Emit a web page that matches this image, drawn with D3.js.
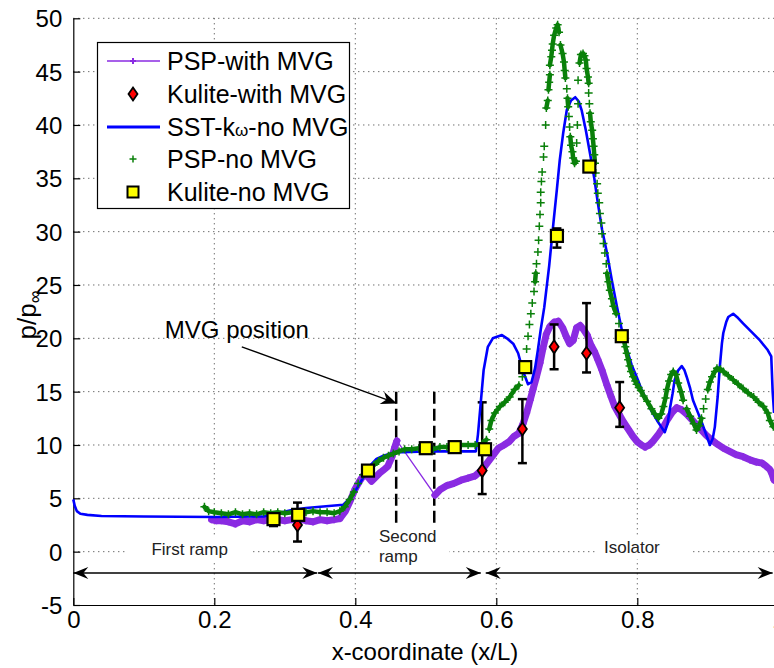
<!DOCTYPE html>
<html><head><meta charset="utf-8">
<script src="https://cdn.jsdelivr.net/npm/d3@7"></script>
<style>body{margin:0;background:#fff;overflow:hidden} text{font-family:"Liberation Sans",Arial,Helvetica,sans-serif}</style>
</head><body><svg id="c" width="774" height="668"></svg>
<script>
// ---------------- data ----------------
const xTicks = [0, 0.2, 0.4, 0.6, 0.8, 1];
const xTickLabels = ["0", "0.2", "0.4", "0.6", "0.8", "1"];
const yTicks = [-5, 0, 5, 10, 15, 20, 25, 30, 35, 40, 45, 50];
const yTickLabels = ["-5", "0", "5", "10", "15", "20", "25", "30", "35", "40", "45", "50"];
const seriesNames = ["PSP-with MVG", "Kulite-with MVG", "SST-kω-no MVG", "PSP-no MVG", "Kulite-no MVG"];

const pspWithMVG = [
 [0.196,3.0],[0.203,2.9],[0.21,2.9],[0.22,2.8],[0.23,2.6],[0.24,2.9],[0.25,2.8],[0.26,3.0],[0.27,2.9],
 [0.28,3.0],[0.29,3.0],[0.30,2.9],[0.31,3.0],[0.32,3.1],[0.33,2.9],[0.34,2.8],[0.35,3.0],[0.36,2.9],
 [0.37,3.0],[0.378,3.1],[0.386,3.8],[0.393,4.8],[0.40,5.9],[0.406,6.6],[0.412,7.2],[0.418,7.0],
 [0.423,6.6],[0.429,7.0],[0.435,7.4],[0.441,7.7],[0.446,8.0],[0.452,8.9],[0.456,9.8],[0.459,10.4],
 [0.513,5.3],[0.52,5.8],[0.53,6.2],[0.54,6.4],[0.55,6.7],[0.56,6.9],[0.57,7.1],[0.58,7.7],[0.588,8.4],
 [0.595,9.0],[0.603,9.7],[0.611,10.0],[0.618,10.3],[0.625,10.8],[0.632,11.1],[0.638,12.0],[0.643,13.0],
 [0.648,14.2],[0.652,15.2],[0.657,16.4],[0.662,17.7],[0.666,19.0],[0.671,20.4],[0.676,21.1],[0.682,21.5],
 [0.688,21.6],[0.694,21.0],[0.699,20.2],[0.704,19.5],[0.709,19.8],[0.714,21.0],[0.719,21.2],[0.724,20.8],
 [0.729,20.3],[0.734,19.4],[0.739,18.8],[0.744,18.0],[0.75,17.0],[0.757,15.6],[0.763,14.5],[0.768,13.6],
 [0.774,12.9],[0.780,12.2],[0.787,11.5],[0.794,10.8],[0.80,10.3],[0.806,10.0],[0.811,9.8],[0.817,10.0],
 [0.823,10.4],[0.83,11.0],[0.837,11.7],[0.843,12.4],[0.85,13.1],[0.856,13.5],[0.863,13.3],[0.870,12.9],
 [0.877,12.4],[0.884,11.9],[0.891,11.4],[0.898,10.9],[0.905,10.5],[0.913,10.1],[0.922,9.7],[0.931,9.4],
 [0.94,9.1],[0.95,8.9],[0.96,8.6],[0.969,8.4],[0.977,8.3],[0.983,8.0],[0.988,7.7],[0.991,7.3],[0.994,6.7]
];

// [x, y, lower, upper]
const kuliteWithMVG = [
 [0.318,2.5,0.95,4.6],[0.580,7.6,5.4,14.0],[0.637,11.5,8.3,14.3],
 [0.682,19.2,17.1,21.3],[0.728,18.6,16.8,23.3],[0.775,13.5,11.7,15.9]
];

const sstNoMVG = [
 [0,4.9],[0.002,4.3],[0.005,3.8],[0.01,3.55],[0.02,3.45],[0.04,3.35],[0.1,3.3],[0.2,3.25],[0.27,3.3],
 [0.31,3.9],[0.33,4.1],[0.383,4.4],[0.392,5.0],[0.40,5.7],[0.41,6.8],[0.42,8.0],[0.43,8.7],[0.44,9.0],
 [0.455,9.3],[0.5,9.4],[0.55,9.4],[0.571,9.4],[0.574,11.0],[0.578,14.0],[0.582,17.0],[0.588,19.2],
 [0.595,20.0],[0.603,20.2],[0.608,20.3],[0.615,20.0],[0.624,19.5],[0.631,18.6],[0.638,16.9],[0.645,15.7],
 [0.65,15.9],[0.655,17.2],[0.659,18.9],[0.663,20.8],[0.668,22.9],[0.675,26.8],[0.681,30.8],[0.686,34.0],
 [0.690,36.7],[0.695,39.3],[0.700,41.4],[0.706,42.3],[0.712,42.6],[0.717,42.2],[0.721,41.4],[0.727,39.5],
 [0.733,37.3],[0.739,35.0],[0.744,32.7],[0.750,30.2],[0.757,28.0],[0.764,25.4],[0.771,23.0],[0.778,20.8],
 [0.785,19.0],[0.792,17.5],[0.799,16.4],[0.806,15.2],[0.813,14.2],[0.820,13.2],[0.828,12.3],[0.834,11.7],
 [0.839,11.2],[0.843,12.0],[0.846,13.3],[0.850,14.8],[0.853,16.1],[0.858,17.0],[0.863,17.4],[0.867,17.0],
 [0.870,16.4],[0.875,15.3],[0.879,14.2],[0.885,13.2],[0.891,12.2],[0.897,11.1],[0.903,10.0],[0.907,10.6],
 [0.910,11.7],[0.914,14.5],[0.917,17.3],[0.920,19.5],[0.922,20.5],[0.926,21.5],[0.929,22.0],[0.936,22.3],
 [0.943,21.9],[0.950,21.4],[0.962,20.6],[0.974,19.8],[0.985,18.9],[0.990,18.3],[0.992,15.0],[0.994,13.0]
];

const pspNoMVG = [
 [0.186,4.2],[0.192,3.8],[0.20,3.7],[0.21,3.6],[0.22,3.5],[0.23,3.7],[0.24,3.5],[0.25,3.6],[0.26,3.5],
 [0.27,3.7],[0.28,3.6],[0.29,3.7],[0.30,3.6],[0.31,3.7],[0.32,3.7],[0.33,3.7],[0.34,3.8],[0.35,3.7],
 [0.36,3.7],[0.37,3.6],[0.378,3.8],[0.385,4.2],[0.392,4.9],[0.398,5.6],[0.404,6.4],[0.411,7.2],[0.418,7.7],
 [0.426,8.1],[0.433,8.5],[0.44,8.8],[0.447,9.0],[0.454,9.2],[0.462,9.4],[0.47,9.6],[0.48,9.6],[0.49,9.7],
 [0.50,9.7],[0.51,9.6],[0.52,9.8],[0.53,9.8],[0.54,9.9],[0.55,10.0],[0.56,10.0],[0.57,10.0],[0.58,10.1],
 [0.586,10.5],[0.590,11.5],[0.593,12.3],[0.598,13.0],[0.605,13.6],[0.612,14.0],[0.619,14.5],[0.626,15.2],
 [0.632,15.6],[0.637,16.4],[0.640,17.6],[0.643,19.0],[0.645,20.2],[0.647,21.3],[0.649,22.3],
 [0.651,23.3],[0.6535,24.4],[0.655,25.3],[0.656,26.1],[0.657,27.0],[0.659,28.1],[0.660,29.2],[0.661,30.5],
 [0.662,31.6],[0.663,32.7],[0.663,33.7],[0.664,34.7],[0.665,35.6],[0.667,37.0],[0.668,38.0],[0.670,40.0],
 [0.671,41.6],[0.673,42.3],[0.674,43.3],[0.675,44.0],[0.676,44.7],[0.676,45.6],[0.678,46.4],[0.679,47.0],
 [0.680,47.6],[0.682,48.4],[0.685,49.1],[0.687,49.4],[0.689,48.7],
 [0.691,47.5],[0.694,46.7],[0.696,45.9],[0.697,45.1],[0.698,44.4],[0.700,43.4],[0.701,42.5],[0.702,41.7],
 [0.703,40.8],[0.704,39.8],[0.705,38.9],[0.706,38.1],[0.708,37.5],[0.709,36.9],[0.711,36.4],[0.713,36.6],
 [0.714,38.3],[0.715,40.0],[0.716,42.0],[0.716,44.2],[0.718,45.8],[0.720,46.6],[0.723,46.7],[0.725,46.5],
 [0.727,46.1],[0.728,45.3],[0.730,44.5],[0.731,43.9],[0.731,43.0],[0.732,42.0],[0.733,41.1],[0.734,40.3],
 [0.736,39.5],[0.737,38.7],[0.738,38.0],[0.739,37.2],[0.740,36.4],[0.741,35.5],[0.743,34.5],[0.744,33.6],
 [0.746,32.7],[0.747,31.7],[0.749,30.8],[0.750,29.8],[0.752,28.9],[0.754,28.0],[0.756,27.0],[0.757,26.1],
 [0.759,25.3],[0.761,24.5],[0.764,23.7],[0.766,23.0],[0.770,22.3],[0.774,21.4],[0.778,20.5],[0.781,19.8],
 [0.783,19.2],[0.785,18.6],[0.787,18.0],[0.789,17.4],[0.791,16.9],[0.794,16.4],[0.797,16.0],[0.799,15.7],
 [0.802,15.4],[0.805,15.1],[0.809,14.6],[0.814,14.1],[0.82,13.4],[0.825,12.9],[0.83,12.5],[0.834,12.9],
 [0.837,13.6],[0.840,14.4],[0.842,15.2],[0.845,16.0],[0.848,16.6],[0.851,16.9],[0.855,16.6],[0.858,15.8],
 [0.862,15.0],[0.865,14.2],[0.870,13.4],[0.875,12.7],[0.880,12.0],[0.884,11.4],[0.888,11.8],[0.891,12.5],
 [0.894,13.4],[0.897,14.3],[0.900,15.2],[0.903,15.9],[0.906,16.4],[0.910,16.9],[0.913,17.2],[0.918,17.1],
 [0.922,16.9],[0.929,16.5],[0.936,16.1],[0.943,15.7],[0.950,15.3],[0.957,14.9],[0.965,14.5],[0.972,14.0],
 [0.979,13.6],[0.985,13.0],[0.988,12.3],[0.993,11.7]
];

// [x, y, lower, upper]
const kuliteNoMVG = [
 [0.284,3.05,2.4,3.3],[0.319,3.45,3.2,3.7],[0.418,7.6,7.4,7.8],[0.500,9.7,9.5,9.9],[0.541,9.8,9.6,10.0],
 [0.584,9.6,9.4,9.8],[0.641,17.3,17.1,17.5],[0.686,29.6,28.5,30.3],[0.732,36.1,35.9,36.3],[0.778,20.2,20.0,20.4]
];

const regionNames = ["First ramp", "Second ramp", "Isolator"];
const regionSpans = [[0,0.346],[0.347,0.578],[0.585,0.992]];
const mvgPositions = [0.458, 0.512];

// ---------------- drawing ----------------
const W = 774, H = 668;
const svg = d3.select("#c");
svg.append("rect").attr("width", W).attr("height", H).attr("fill", "#fff");
const x = d3.scaleLinear().domain([0, 1]).range([73.3, 778.3]);
const y = d3.scaleLinear().domain([-5, 50]).range([605, 18.3]);

const cPurple = "#8a2be2", cBlue = "#0000ff", cGreen = "#0a800a";

// grid
const grid = svg.append("g").attr("stroke", "#333").attr("stroke-width", 1).attr("stroke-dasharray", "1,4");
xTicks.filter(d => d > 0).forEach(t => grid.append("line").attr("x1", x(t)).attr("x2", x(t)).attr("y1", y(50)).attr("y2", y(-5)));
yTicks.filter(d => d > -5).forEach(t => grid.append("line").attr("x1", x(0)).attr("x2", x(1)).attr("y1", y(t)).attr("y2", y(t)));

// axes
const xAxis = d3.axisBottom(x).tickValues(xTicks).tickFormat((d, i) => xTickLabels[i]).tickSizeInner(-7).tickSizeOuter(0).tickPadding(6);
const gx = svg.append("g").attr("transform", `translate(0,${y(-5)})`).call(xAxis);
const yAxis = d3.axisLeft(y).tickValues(yTicks).tickFormat((d, i) => yTickLabels[i]).tickSizeInner(-7).tickSizeOuter(0).tickPadding(11);
const gy = svg.append("g").attr("transform", `translate(${x(0)},0)`).call(yAxis);
[gx, gy].forEach(g => {
  g.select(".domain").attr("stroke", "#000").attr("stroke-width", 1.2);
  g.selectAll(".tick line").attr("stroke", "#000").attr("stroke-width", 1.2);
  g.selectAll(".tick text").attr("fill", "#000").style("font-size", "24px").style("font-family", '"Liberation Sans",Arial,sans-serif');
});
gx.selectAll(".tick text").attr("dy", "0.71em");
gy.selectAll(".tick text").attr("dy", "0.36em");

// axis titles
svg.append("text").attr("x", 425).attr("y", 660).attr("text-anchor", "middle").style("font-size", "24px").text("x-coordinate (x/L)");
const yt = svg.append("text").attr("transform", "translate(36,315) rotate(-90)").attr("text-anchor", "middle").style("font-size", "26px");
yt.append("tspan").text("p/p");
yt.append("tspan").attr("dy", 5).style("font-size", "18px").text("∞");

// region label backgrounds + text
const labelG = svg.append("g");
const bgBoxes = [[128, 538, 125, 24], [372, 523, 77, 46], [597, 537, 94, 22]];
bgBoxes.forEach(b => labelG.append("rect").attr("x", b[0]).attr("y", b[1]).attr("width", b[2]).attr("height", b[3]).attr("fill", "#fff"));
labelG.append("text").attr("x", x(0.165)).attr("y", y(0.25) + 6).attr("text-anchor", "middle").attr("fill", "#222").style("font-size", "17px").text(regionNames[0]);
labelG.append("text").attr("x", x(0.4335)).attr("y", y(1.45) + 6).attr("fill", "#222").style("font-size", "17px").text("Second");
labelG.append("text").attr("x", x(0.4335)).attr("y", y(-0.45) + 6).attr("fill", "#222").style("font-size", "17px").text("ramp");
labelG.append("text").attr("x", x(0.7528)).attr("y", y(0.45) + 6).attr("fill", "#222").style("font-size", "17px").text(regionNames[2]);

// arrowhead helper
function head(g, tx, ty, fx, fy, L, hw, notch) {
  const a = Math.atan2(ty - fy, tx - fx), c = Math.cos(a), s = Math.sin(a);
  const p = (u, v) => [tx - u * c - v * s, ty - u * s + v * c];
  const pts = [[tx, ty], p(L, -hw), p(L - notch, 0), p(L, hw)];
  g.append("path").attr("d", "M" + pts.map(q => q.join(",")).join("L") + "Z").attr("fill", "#000");
}
// region double arrows at y = -2
const arr = svg.append("g");
regionSpans.forEach(sp => {
  const x1 = x(sp[0]), x2 = x(sp[1]), yy = y(-2);
  arr.append("line").attr("x1", x1).attr("x2", x2).attr("y1", yy).attr("y2", yy).attr("stroke", "#000").attr("stroke-width", 1.3);
  head(arr, x1, yy, x2, yy, 15, 6, 5);
  head(arr, x2, yy, x1, yy, 15, 6, 5);
});

// MVG dashed lines
mvgPositions.forEach(p => svg.append("line").attr("x1", x(p)).attr("x2", x(p)).attr("y1", y(15)).attr("y2", y(2.5))
  .attr("stroke", "#000").attr("stroke-width", 2.5).attr("stroke-dasharray", "12,5"));

// MVG position annotation
svg.append("text").attr("x", x(0.232)).attr("y", 338).attr("text-anchor", "middle").style("font-size", "24px").text("MVG position");
{
  const fx = x(0.239), fy = y(19.2), tx = x(0.459), ty = y(13.9);
  const len = Math.hypot(tx - fx, ty - fy);
  svg.append("line").attr("x1", fx).attr("y1", fy).attr("x2", tx - 8 * (tx - fx) / len).attr("y2", ty - 8 * (ty - fy) / len).attr("stroke", "#000").attr("stroke-width", 1.3);
  head(svg, tx, ty, fx, fy, 16, 6.5, 5);
}

// dense-band helper: thick segments where consecutive samples are close
function bandPath(data, thr) {
  let d = "";
  for (let i = 1; i < data.length; i++) {
    const ax = x(data[i - 1][0]), ay = y(data[i - 1][1]), bx = x(data[i][0]), by = y(data[i][1]);
    if (Math.hypot(bx - ax, by - ay) < thr) d += `M${ax},${ay}L${bx},${by}`;
  }
  return d;
}
const line = d3.line().x(d => x(d[0])).y(d => y(d[1]));
const plot = svg.append("g");

// PSP-with MVG (purple)
plot.append("path").attr("d", bandPath(pspWithMVG, 18)).attr("stroke", cPurple).attr("stroke-width", 7).attr("stroke-linecap", "round").attr("stroke-linejoin", "round").attr("fill", "none");
plot.append("path").attr("d", line(pspWithMVG)).attr("stroke", cPurple).attr("stroke-width", 1.3).attr("fill", "none");
plot.selectAll(".pm").data(pspWithMVG).enter().append("path").attr("d", "M-3.5,0H3.5M0,-3.5V3.5")
  .attr("transform", d => `translate(${x(d[0])},${y(d[1])})`).attr("stroke", cPurple).attr("stroke-width", 1.6);

// Kulite-with MVG (error bars + red diamonds)
const diamond = "M0,-6.5L4.5,0L0,6.5L-4.5,0Z";
kuliteWithMVG.forEach(d => {
  const cx = x(d[0]);
  plot.append("line").attr("x1", cx).attr("x2", cx).attr("y1", y(d[2])).attr("y2", y(d[3])).attr("stroke", "#000").attr("stroke-width", 2.5);
  [d[2], d[3]].forEach(v => plot.append("line").attr("x1", cx - 4.5).attr("x2", cx + 4.5).attr("y1", y(v)).attr("y2", y(v)).attr("stroke", "#000").attr("stroke-width", 2.5));
  plot.append("path").attr("d", diamond).attr("transform", `translate(${cx},${y(d[1])})`).attr("fill", "#ff0000").attr("stroke", "#000").attr("stroke-width", 1.8);
});

// SST (blue)
plot.append("path").attr("d", line(sstNoMVG)).attr("stroke", cBlue).attr("stroke-width", 2.6).attr("fill", "none").attr("stroke-linejoin", "round");

// PSP-no MVG (green +)
plot.append("path").attr("d", bandPath(pspNoMVG, 9)).attr("stroke", cGreen).attr("stroke-width", 4.5).attr("stroke-linecap", "round").attr("fill", "none");
plot.selectAll(".gm").data(pspNoMVG).enter().append("path").attr("d", "M-4,0H4M0,-4V4")
  .attr("transform", d => `translate(${x(d[0])},${y(d[1])})`).attr("stroke", cGreen).attr("stroke-width", 1.5);

// Kulite-no MVG (yellow squares + small error bars)
kuliteNoMVG.forEach(d => {
  const cx = x(d[0]);
  plot.append("line").attr("x1", cx).attr("x2", cx).attr("y1", y(d[2])).attr("y2", y(d[3])).attr("stroke", "#000").attr("stroke-width", 2.5);
  [d[2], d[3]].forEach(v => plot.append("line").attr("x1", cx - 4.5).attr("x2", cx + 4.5).attr("y1", y(v)).attr("y2", y(v)).attr("stroke", "#000").attr("stroke-width", 2.5));
  plot.append("rect").attr("x", cx - 6).attr("y", y(d[1]) - 6).attr("width", 12).attr("height", 12).attr("fill", "#ffff00").attr("stroke", "#000").attr("stroke-width", 2.2);
});

// legend
const lg = svg.append("g");
lg.append("rect").attr("x", 97.5).attr("y", 42.5).attr("width", 252).attr("height", 166).attr("fill", "#fff").attr("stroke", "#000").attr("stroke-width", 1.2);
const rows = [61, 94, 127, 159, 192];
const sx1 = 107, sx2 = 160, sxm = 133;
lg.append("line").attr("x1", sx1).attr("x2", sx2).attr("y1", rows[0]).attr("y2", rows[0]).attr("stroke", cPurple).attr("stroke-width", 1.5);
lg.append("path").attr("d", "M-3,0H3M0,-3V3").attr("transform", `translate(${sxm},${rows[0]})`).attr("stroke", cPurple).attr("stroke-width", 2);
lg.append("path").attr("d", diamond).attr("transform", `translate(${sxm},${rows[1]})`).attr("fill", "#ff0000").attr("stroke", "#000").attr("stroke-width", 1.8);
lg.append("line").attr("x1", sx1).attr("x2", sx2).attr("y1", rows[2]).attr("y2", rows[2]).attr("stroke", cBlue).attr("stroke-width", 3);
lg.append("path").attr("d", "M-3.5,0H3.5M0,-3.5V3.5").attr("transform", `translate(${sxm},${rows[3]})`).attr("stroke", cGreen).attr("stroke-width", 1.5);
lg.append("rect").attr("x", sxm - 5.5).attr("y", rows[4] - 5.5).attr("width", 11).attr("height", 11).attr("fill", "#ffff00").attr("stroke", "#000").attr("stroke-width", 2);
rows.forEach((r, i) => {
  const t = lg.append("text").attr("x", 167).attr("y", r + 9).style("font-size", "25px");
  if (i === 2) {
    t.append("tspan").text("SST-k");
    t.append("tspan").style("font-size", "17px").text("ω");
    t.append("tspan").text("-no MVG");
  } else t.text(seriesNames[i]);
});
</script>
</body></html>
